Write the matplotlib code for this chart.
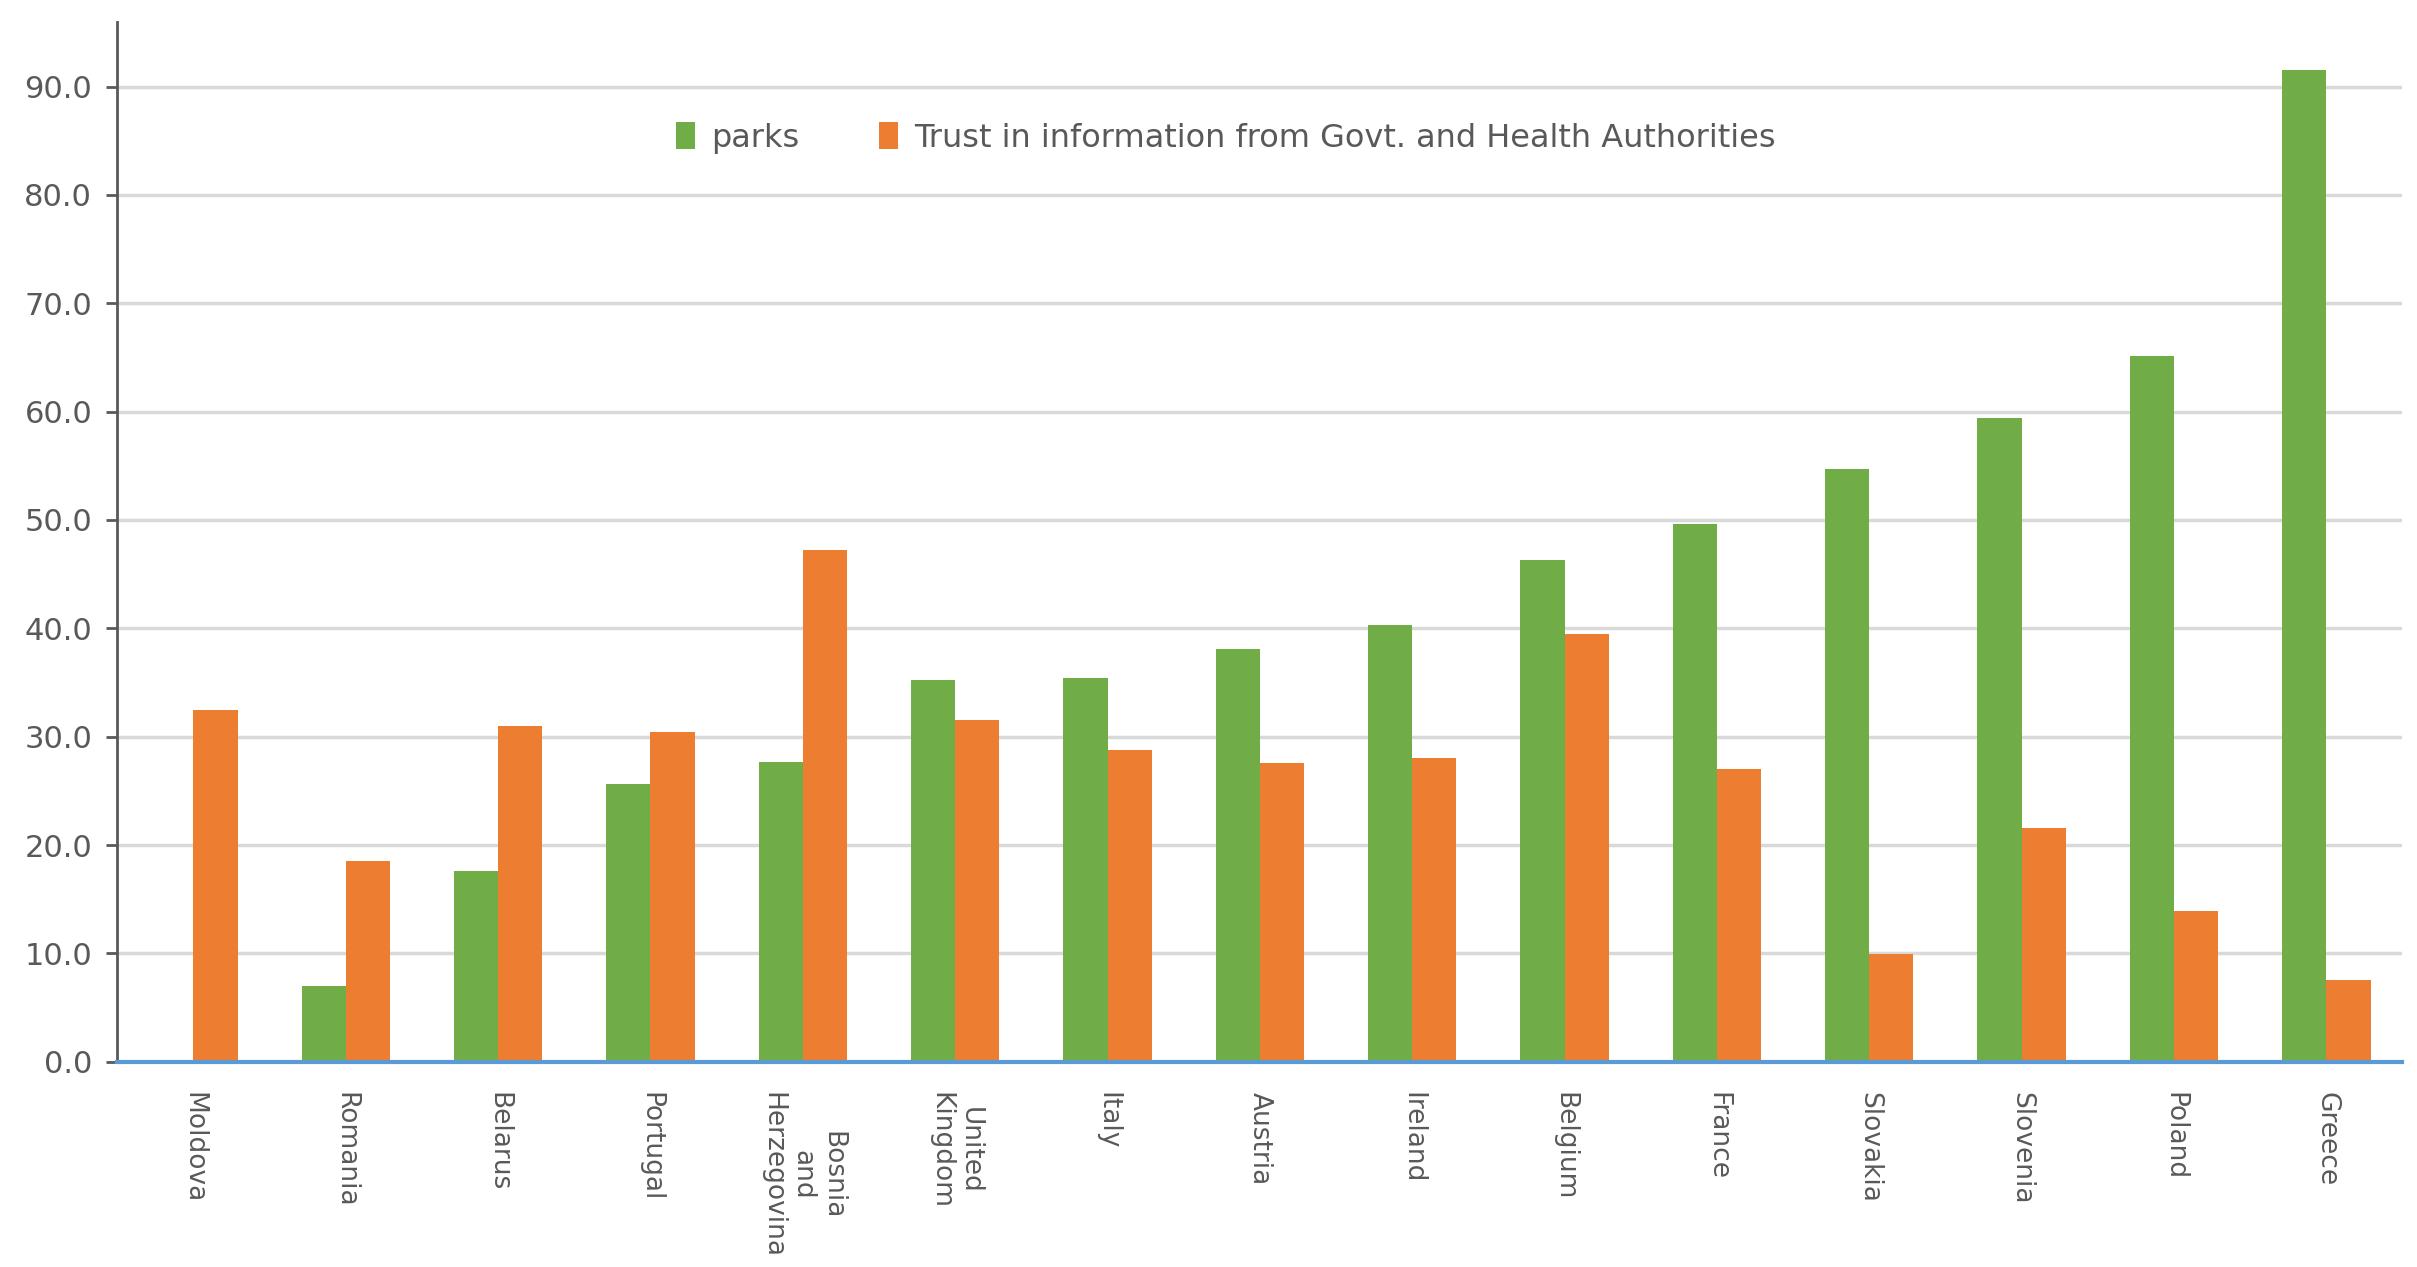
"""
Parks vs trust in information from government, by country.
"""

import matplotlib.pyplot as plt
import numpy as np

countries = [
    "Moldova", "Romania", "Belarus", "Portugal", "Bosnia\nand\nHerzegovina",
    "United\nKingdom", "Italy", "Austria", "Ireland", "Belgium", "France",
    "Slovakia", "Slovenia", "Poland", "Greece",
]
parks = [0.0, 7.0, 17.6, 25.6, 27.7, 35.2, 35.4, 38.1, 40.3, 46.3, 49.6,
         54.7, 59.4, 65.1, 91.5]
trust = [32.5, 18.5, 31.0, 30.4, 47.2, 31.5, 28.8, 27.6, 28.0, 39.5, 27.0,
         9.9, 21.6, 13.9, 7.5]

GREEN = "#70AD47"
ORANGE = "#ED7D31"
NARROW = ["Liberation Sans Narrow", "DejaVu Sans"]


def main():
    fig = plt.figure(figsize=(24.17, 12.67), dpi=100)
    ax = fig.add_axes([0.0485, 0.162, 0.9455, 0.821])

    x = np.arange(len(countries))
    w = 0.29
    ax.bar(x - w / 2, parks, w, color=GREEN, label="parks", zorder=3)
    ax.bar(x + w / 2, trust, w, color=ORANGE,
           label="Trust in information from Govt. and Health Authorities",
           zorder=3)

    ax.set_xlim(-0.5, len(countries) - 0.5)
    ax.set_ylim(0, 96)
    ax.set_yticks(np.arange(0, 91, 10))
    ax.set_yticklabels([f"{v:.1f}" for v in np.arange(0, 91, 10)],
                       family=NARROW, fontsize=22, color="#595959")
    ax.yaxis.grid(True, color="#D9D9D9", linewidth=2.5, zorder=0)

    ax.set_xticks(x)
    ax.set_xticklabels(countries, rotation=270, fontsize=19, color="#595959",
                       va="top", ha="center", multialignment="center")
    ax.tick_params(axis="x", length=0, pad=22)
    ax.tick_params(axis="y", length=8, width=2, color="#595959", pad=10)

    for s in ["top", "right"]:
        ax.spines[s].set_visible(False)
    ax.spines["left"].set_color("#595959")
    ax.spines["left"].set_linewidth(2)
    ax.spines["bottom"].set_color("#5B9BD5")
    ax.spines["bottom"].set_linewidth(3)
    ax.spines["bottom"].set_zorder(4)

    ax.legend(loc="center", bbox_to_anchor=(0.485, 0.888), ncol=2,
              frameon=False, prop={"family": NARROW, "size": 23},
              labelcolor="#595959", handlelength=0.6, handleheight=0.9,
              columnspacing=2.5, handletextpad=0.5)

    fig.savefig("out.png", dpi=100, facecolor="white")


if __name__ == "__main__":
    main()
